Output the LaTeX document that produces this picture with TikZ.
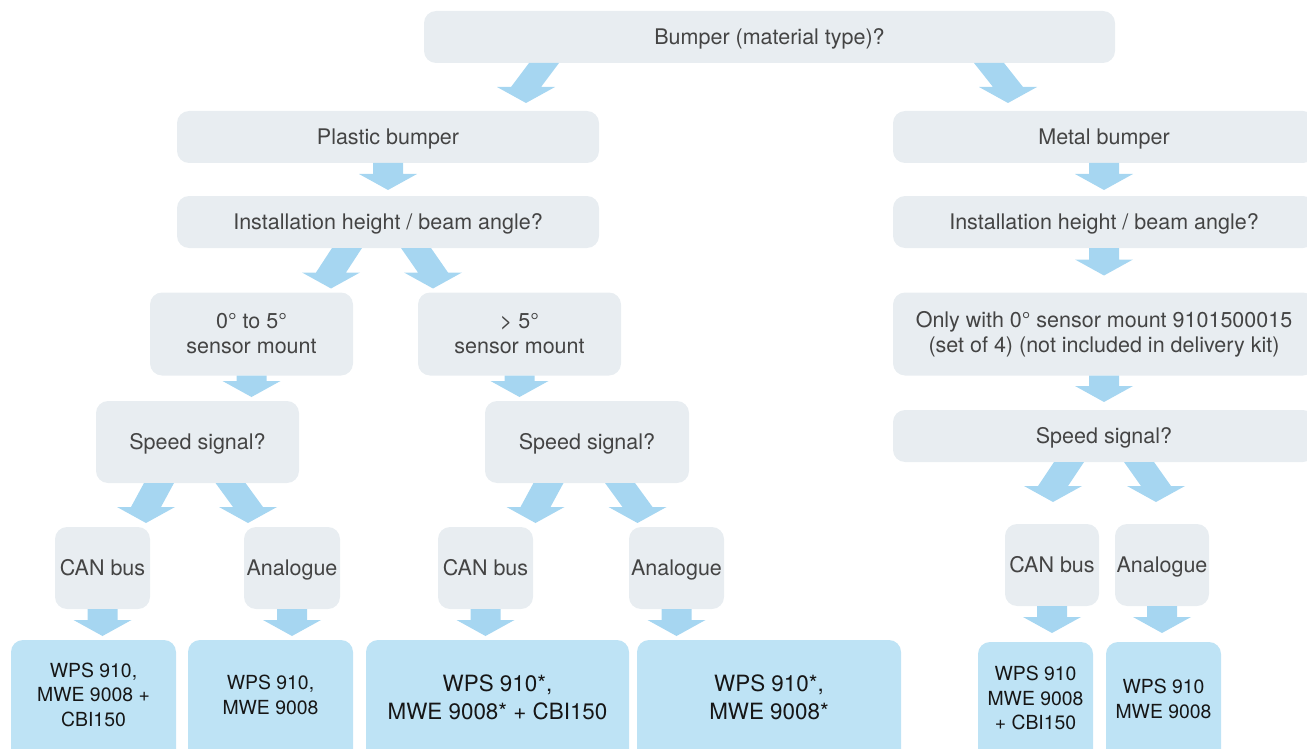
\documentclass[tikz,border=0pt]{standalone}
\usepackage{fontspec}
\setmainfont{TeX Gyre Heros}
\usetikzlibrary{calc}
\definecolor{boxgray}{RGB}{232,237,241}
\definecolor{boxblue}{RGB}{190,227,245}
\definecolor{arrowblue}{RGB}{166,214,241}
\definecolor{txtgray}{RGB}{68,68,68}
\definecolor{txtdark}{RGB}{22,22,22}
\newcommand{\flowarrow}[2]{\fill[arrowblue] let \p1=#1, \p2=#2 in
  (\x1-15pt,\y1) -- (\x1+15pt,\y1) -- (\x2+15pt,\y2+16pt) -- (\x2+29pt,\y2+16pt)
  -- (\x2,\y2) -- (\x2-29pt,\y2+16pt) -- (\x2-15pt,\y2+16pt) -- cycle;}
\tikzset{
  gbox/.style={fill=boxgray, rounded corners=12pt, inner sep=0pt, outer sep=0pt,
    align=center, text=txtgray, font=\fontsize{21.5}{25}\selectfont},
  oneline/.style={text height=15.6pt, text depth=0pt},
  bbox/.style={fill=boxblue, rounded corners=12pt, inner sep=0pt, outer sep=0pt},
  btext/.style={align=center, text=txtdark, inner sep=0pt, font=\fontsize{19.4}{24.5}\selectfont},
  bigtext/.style={align=center, text=txtdark, inner sep=0pt, font=\fontsize{22.4}{28}\selectfont}
}
\begin{document}
\begin{tikzpicture}[x=1pt,y=1pt]
\useasboundingbox (0,0) rectangle (1307,-749);
\clip (0,0) rectangle (1307,-749);
% gray boxes
\node[gbox, oneline, minimum width=691pt, minimum height=52pt] (top) at (769.5,-37) {Bumper (material type)?};
\node[gbox, oneline, minimum width=422pt, minimum height=52pt] (pb) at (388,-137) {Plastic bumper};
\node[gbox, oneline, minimum width=422pt, minimum height=52pt] (mb) at (1104,-137) {Metal bumper};
\node[gbox, oneline, minimum width=422pt, minimum height=52pt] (ihl) at (388,-222) {Installation height / beam angle?};
\node[gbox, oneline, minimum width=422pt, minimum height=52pt] (ihr) at (1104,-222) {Installation height / beam angle?};
\node[gbox, minimum width=203pt, minimum height=83pt] (m05) at (251.5,-334) {0° to 5°\\sensor mount};
\node[gbox, minimum width=203pt, minimum height=83pt] (m5) at (519.5,-334) {> 5°\\sensor mount};
\node[gbox, minimum width=422pt, minimum height=83pt] (only) at (1104,-334) {Only with 0° sensor mount 9101500015\\(set of 4) (not included in delivery kit)};
\node[gbox, oneline, minimum width=203pt, minimum height=82pt] (ssl) at (197.5,-442) {Speed signal?};
\node[gbox, oneline, minimum width=204pt, minimum height=82pt] (ssm) at (587,-442) {Speed signal?};
\node[gbox, oneline, minimum width=422pt, minimum height=52pt] (ssr) at (1104,-436) {Speed signal?};
\node[gbox, oneline, minimum width=95pt, minimum height=82pt] (can1) at (102.5,-568) {CAN bus};
\node[gbox, oneline, minimum width=96pt, minimum height=82pt] (ana1) at (292,-568) {Analogue};
\node[gbox, oneline, minimum width=95pt, minimum height=82pt] (can2) at (485.5,-568) {CAN bus};
\node[gbox, oneline, minimum width=95pt, minimum height=82pt] (ana2) at (676.5,-568) {Analogue};
\node[gbox, oneline, minimum width=94pt, minimum height=82pt] (can3) at (1052,-565) {CAN bus};
\node[gbox, oneline, minimum width=94pt, minimum height=82pt] (ana3) at (1162,-565) {Analogue};
% blue result boxes
\node[bbox, minimum width=165pt, minimum height=130pt] (b1) at (93.5,-705) {};
\node[bbox, minimum width=165pt, minimum height=130pt] (b2) at (270.5,-705) {};
\node[bbox, minimum width=263pt, minimum height=130pt] (b3) at (497.5,-705) {};
\node[bbox, minimum width=264pt, minimum height=130pt] (b4) at (769,-705) {};
\node[bbox, minimum width=115pt, minimum height=130pt] (b5) at (1035.5,-707) {};
\node[bbox, minimum width=115pt, minimum height=130pt] (b6) at (1163.5,-707) {};
\node[btext] (b1t) at (93.5,-694.5) {WPS 910,\\MWE 9008 +\\CBI150};
\node[btext] (b2t) at (270.5,-695) {WPS 910,\\MWE 9008};
\node[bigtext] (b3t) at (497.5,-697) {WPS 910*,\\MWE 9008* + CBI150};
\node[bigtext] (b4t) at (769,-697) {WPS 910*,\\MWE 9008*};
\node[btext] (b5t) at (1035.5,-698) {WPS 910\\MWE 9008\\+ CBI150};
\node[btext] (b6t) at (1163.5,-699) {WPS 910\\MWE 9008};
% diagonal arrows
\flowarrow{([xshift=-225.5pt]top.south)}{([xshift=138pt,yshift=8pt]pb.north)}
\flowarrow{([xshift=219.5pt]top.south)}{([xshift=-96pt,yshift=8pt]mb.north)}
\flowarrow{([xshift=-41pt]ihl.south)}{([xshift=79.5pt,yshift=4pt]m05.north)}
\flowarrow{([xshift=28pt]ihl.south)}{([xshift=-86.5pt,yshift=4pt]m5.north)}
\flowarrow{([xshift=-38.5pt]ssl.south)}{([xshift=43.5pt,yshift=4pt]can1.north)}
\flowarrow{([xshift=33pt]ssl.south)}{([xshift=-44pt,yshift=4pt]ana1.north)}
\flowarrow{([xshift=-38.5pt]ssm.south)}{([xshift=50pt,yshift=4pt]can2.north)}
\flowarrow{([xshift=33pt]ssm.south)}{([xshift=-39pt,yshift=4pt]ana2.north)}
\flowarrow{([xshift=-35pt]ssr.south)}{([xshift=1pt,yshift=22pt]can3.north)}
\flowarrow{([xshift=35pt]ssr.south)}{([xshift=-6pt,yshift=22pt]ana3.north)}
% vertical arrows
\flowarrow{(pb.south)}{([yshift=6pt]ihl.north)}
\flowarrow{(mb.south)}{([yshift=6pt]ihr.north)}
\flowarrow{(ihr.south)}{([yshift=17pt]only.north)}
\flowarrow{(only.south)}{([yshift=8pt]ssr.north)}
\flowarrow{(m05.south)}{($(m05.south |- ssl.north)+(0,4)$)}
\flowarrow{(m5.south)}{($(m5.south |- ssm.north)+(0,4)$)}
\flowarrow{(can1.south)}{($(can1.south |- b1.north)+(0,4)$)}
\flowarrow{(ana1.south)}{($(ana1.south |- b2.north)+(0,4)$)}
\flowarrow{(can2.south)}{($(can2.south |- b3.north)+(0,4)$)}
\flowarrow{(ana2.south)}{($(ana2.south |- b4.north)+(0,4)$)}
\flowarrow{(can3.south)}{($(can3.south |- b5.north)+(0,9)$)}
\flowarrow{(ana3.south)}{($(ana3.south |- b6.north)+(0,9)$)}
\end{tikzpicture}
\end{document}
